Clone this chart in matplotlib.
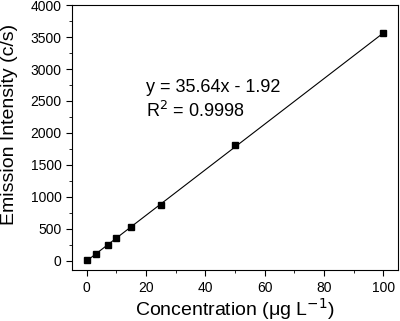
import numpy as np
import matplotlib.pyplot as plt
from matplotlib.ticker import MultipleLocator

plt.rcParams['font.family'] = ['Liberation Sans', 'DejaVu Sans']

conc = [0, 3, 7, 10, 15, 25, 50, 100]
intensity = [5, 105, 250, 355, 520, 870, 1810, 3560]
slope = 35.64
intercept = -1.92
r2 = 0.9998

fig = plt.figure(figsize=(4.0, 3.21), dpi=100)
ax = fig.add_axes([0.18, 0.158, 0.815, 0.826])

xf = np.array([0, 100])
ax.plot(xf, slope * xf + intercept, color="black", lw=0.8)
ax.plot(conc, intensity, "s", color="black", ms=4.5)

ax.text(20, 2640, f"y = {slope:.2f}x - {abs(intercept):.2f}", fontsize=13)
ax.text(20, 2250, f"R$^2$ = {r2}", fontsize=13)

ax.set_xlim(-5, 105)
ax.set_ylim(-150, 4000)
ax.xaxis.set_major_locator(MultipleLocator(20))
ax.xaxis.set_minor_locator(MultipleLocator(10))
ax.yaxis.set_major_locator(MultipleLocator(500))
ax.yaxis.set_minor_locator(MultipleLocator(250))
ax.tick_params(which="both", direction="out", labelsize=10)
ax.tick_params(which="major", length=4)
ax.tick_params(which="minor", length=2.5)

ax.set_xlabel("Concentration (\u03bcg L$^{-1}$)", fontsize=14, labelpad=1)
ax.set_ylabel("Emission Intensity (c/s)", fontsize=14)
ax.yaxis.set_label_coords(-0.165, 0.55)

fig.savefig("out.png", dpi=100)
